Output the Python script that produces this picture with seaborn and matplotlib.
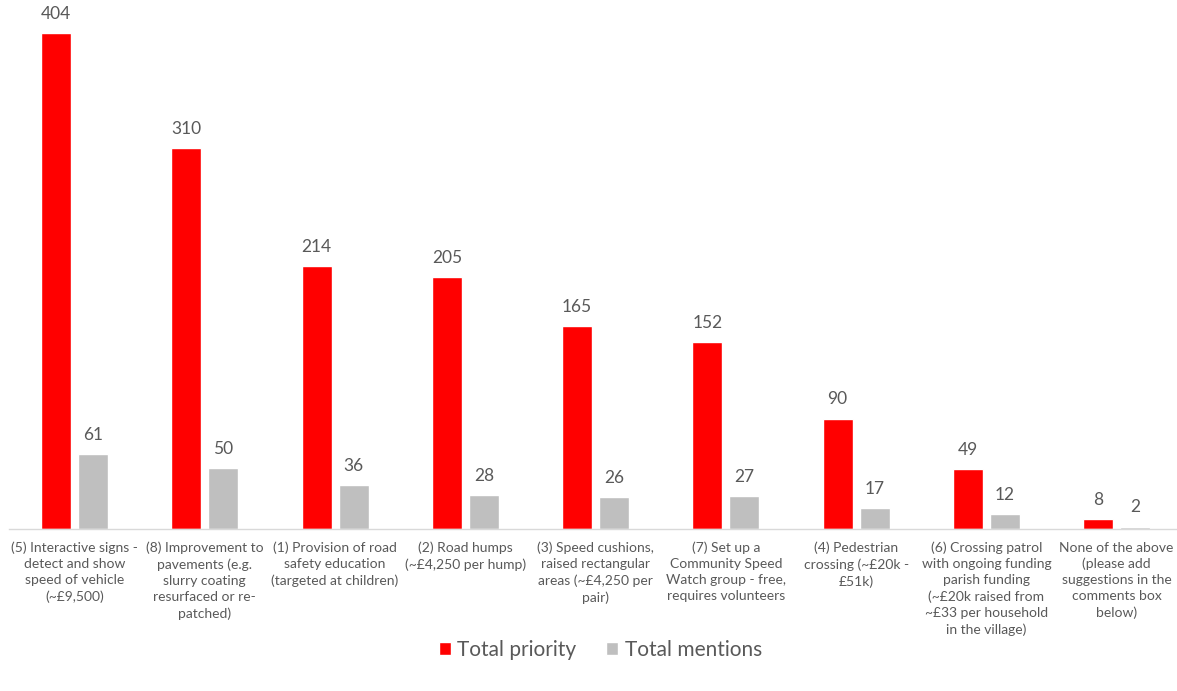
import pandas as pd
import matplotlib.pyplot as plt
import seaborn as sns

categories = [
    "(5) Interactive signs -\ndetect and show\nspeed of vehicle\n(~£9,500)",
    "(8) Improvement to\npavements (e.g.\nslurry coating\nresurfaced or re-\npatched)",
    "(1) Provision of road\nsafety education\n(targeted at children)",
    "(2) Road humps\n(~£4,250 per hump)",
    "(3) Speed cushions,\nraised rectangular\nareas (~£4,250 per\npair)",
    "(7) Set up a\nCommunity Speed\nWatch group - free,\nrequires volunteers",
    "(4) Pedestrian\ncrossing (~£20k -\n£51k)",
    "(6) Crossing patrol\nwith ongoing funding\nparish funding\n(~£20k raised from\n~£33 per household\nin the village)",
    "None of the above\n(please add\nsuggestions in the\ncomments box\nbelow)",
]
total_priority = [404, 310, 214, 205, 165, 152, 90, 49, 8]
total_mentions = [61, 50, 36, 28, 26, 27, 17, 12, 2]
series = ["Total priority", "Total mentions"]

df = pd.DataFrame({
    "category": categories * 2,
    "series": [series[0]] * len(categories) + [series[1]] * len(categories),
    "value": total_priority + total_mentions,
})

sns.set_style("white")
plt.rcParams['font.family'] = ['Lato', 'DejaVu Sans']

fig = plt.figure(figsize=(11.77, 6.91), dpi=100)
ax = fig.add_axes([0.008, 0.2344, 0.996, 0.7464])

sns.barplot(data=df, x="category", y="value", hue="series",
            palette={"Total priority": "#FF0000", "Total mentions": "#BFBFBF"},
            saturation=1, width=0.568, gap=0.19, ax=ax, legend=True)

for c in ax.containers:
    ax.bar_label(c, padding=8, fontsize=12.5, color="#595959")

ax.set_ylim(0, 420)
ax.set_xlim(-0.5, len(categories) - 0.5)
ax.set_xlabel("")
ax.set_ylabel("")
ax.set_yticks([])
ax.tick_params(axis="x", length=0, pad=9, labelsize=10, labelcolor="#595959")
for lbl in ax.get_xticklabels():
    lbl.set_linespacing(1.4)
    lbl.set_verticalalignment("top")
for s in ["top", "right", "left"]:
    ax.spines[s].set_visible(False)
ax.spines["bottom"].set_color("#D9D9D9")
ax.spines["bottom"].set_linewidth(1)

leg = ax.legend(loc="center", bbox_to_anchor=(0.51, 1 - 650 / 691), bbox_transform=fig.transFigure,
                ncol=2, frameon=False, fontsize=15, handlelength=0.6, handleheight=0.6,
                handletextpad=0.3, columnspacing=1.4)
for t in leg.get_texts():
    t.set_color("#595959")

fig.savefig("out.png", dpi=100)
